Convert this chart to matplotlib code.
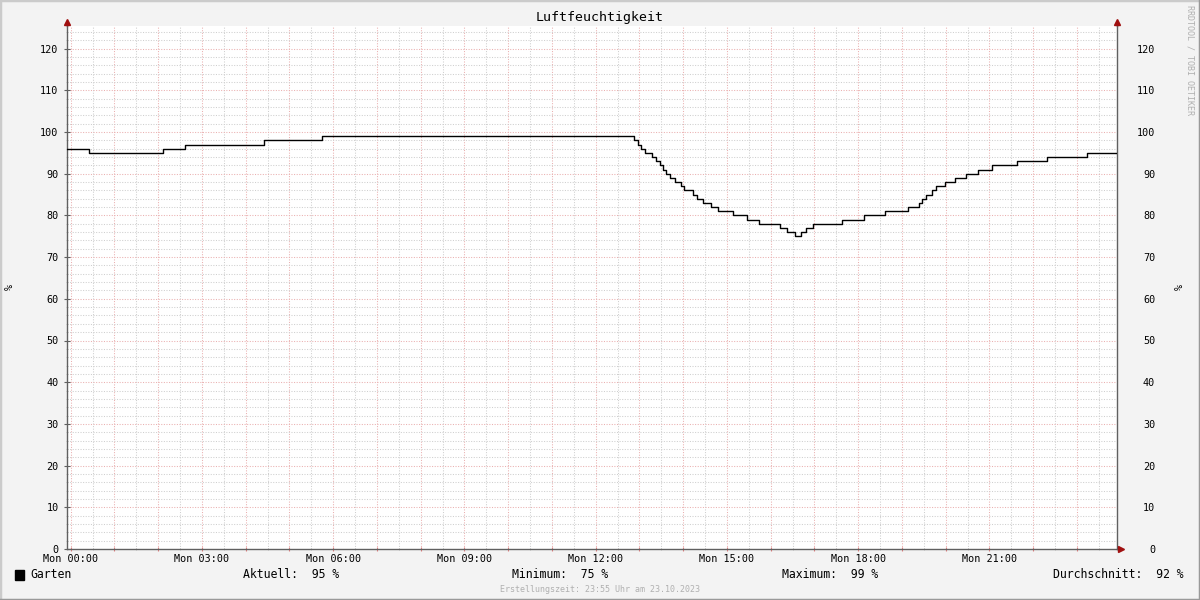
import matplotlib
matplotlib.use("Agg")
import matplotlib.pyplot as plt
from matplotlib.patches import Rectangle
from matplotlib.lines import Line2D
import numpy as np

# ---- data (hours since Mon 00:00, humidity %) ----
step_hours = [-0.083, 0.43, 2.10, 2.61, 4.43, 5.74,
              12.87, 12.96, 13.03, 13.12, 13.28, 13.37, 13.46, 13.53, 13.60,
              13.71, 13.81, 13.94, 14.03, 14.22, 14.31, 14.45, 14.63, 14.79,
              15.13, 15.45, 15.73, 16.21, 16.37, 16.55, 16.69, 16.80, 16.96,
              17.62, 18.13, 18.61, 19.13, 19.38, 19.47, 19.54, 19.68, 19.79,
              19.98, 20.21, 20.46, 20.73, 21.05, 21.62, 22.31, 23.22, 23.917]
humidity = [96, 95, 96, 97, 98, 99,
            98, 97, 96, 95, 94, 93, 92, 91, 90,
            89, 88, 87, 86, 85, 84, 83, 82, 81,
            80, 79, 78, 77, 76, 75, 76, 77, 78,
            79, 80, 81, 82, 83, 84, 85, 86, 87,
            88, 89, 90, 91, 92, 93, 94, 95, 95]
tick_hours = [0, 3, 6, 9, 12, 15, 18, 21]
y_ticks = [0, 10, 20, 30, 40, 50, 60, 70, 80, 90, 100, 110, 120]

legend_items = [("Aktuell:", "95 %"), ("Minimum:", "75 %"),
                ("Maximum:", "99 %"), ("Durchschnitt:", "92 %")]

mono = "DejaVu Sans Mono"
plt.rcParams['font.family'] = mono

fig = plt.figure(figsize=(12, 6), dpi=100)
fig.patch.set_facecolor("#f3f3f3")

W, H = 1200, 600
x0, x1, ybot, ytop = 67, 1117, 549, 26
ax = fig.add_axes([x0 / W, 1 - ybot / H, (x1 - x0) / W, (ybot - ytop) / H])
ax.set_facecolor("white")

ax.plot(step_hours, humidity, drawstyle="steps-post", color="black", lw=1.0, zorder=5)

ax.set_xlim(-5 / 60, 23 + 55 / 60)
ax.set_ylim(0, (ybot - ytop) / 4.17)

#-----grid-----
ax.set_xticks(np.arange(0, 24, 1))
ax.set_xticks(np.arange(0.5, 24, 1), minor=True)
ax.set_yticks(np.arange(0, 126, 10))
ax.set_yticks(np.arange(2, 126, 2), minor=True)
ax.grid(which="minor", color="#cfcfcf", linestyle=(0, (1, 1.5)), lw=0.75)
ax.grid(which="major", color="#eab0b0", linestyle=(0, (1, 1.5)), lw=0.75)
ax.set_axisbelow(True)

ax.set_xticklabels(["Mon %02d:00" % h if h in tick_hours else "" for h in range(24)],
                   fontsize=7.3)
ax.set_yticklabels([str(v) for v in y_ticks], fontsize=7.3)
ax.tick_params(axis="x", which="major", length=3, color="#e08080", pad=2, direction="inout")
ax.tick_params(axis="x", which="minor", length=2, color="#c0c0c0", direction="inout")
ax.tick_params(axis="y", which="major", length=4, color="#606060", pad=4, direction="inout")
ax.tick_params(axis="y", which="minor", length=2, color="#c0c0c0", direction="inout")

ax.spines["top"].set_visible(False)
for s in ["left", "bottom", "right"]:
    ax.spines[s].set_color("#606060")
    ax.spines[s].set_linewidth(1.0)

#-----right axis labels-----
ax2 = ax.twinx()
ax2.set_ylim(ax.get_ylim())
ax2.set_yticks(y_ticks)
ax2.set_yticklabels([str(v) for v in y_ticks], fontsize=7.3, ha="right")
ax2.tick_params(axis="y", length=0, pad=27.5)
for s in ax2.spines.values():
    s.set_visible(False)

#-----arrows-----
arrow_c = "#a01010"
for xa in (0, 1):
    ax.add_line(Line2D([xa, xa], [1, 1.01], transform=ax.transAxes, color="#606060",
                       lw=1.0, clip_on=False))
    ax.plot([xa], [1.0085], marker="^", ms=4.5, color=arrow_c, transform=ax.transAxes,
            clip_on=False, zorder=10)
ax.add_line(Line2D([1, 1.004], [0, 0], transform=ax.transAxes, color="#606060",
                   lw=1.0, clip_on=False))
ax.plot([1.004], [0], marker=">", ms=4.5, color=arrow_c, transform=ax.transAxes,
        clip_on=False, zorder=10)

#-----title / labels-----
fig.text(600 / W, 1 - 18 / H, "Luftfeuchtigkeit", ha="center", va="center",
         fontsize=9.5, color="black")
fig.text(10 / W, 1 - 287 / H, "%", rotation=90, ha="center", va="center", fontsize=7.3)
fig.text(1180 / W, 1 - 287 / H, "%", rotation=90, ha="center", va="center", fontsize=7.3)
fig.text(1190 / W, 1 - 5 / H, "RRDTOOL / TOBI OETIKER", rotation=270, ha="center",
         va="top", fontsize=6, color="#b0b0b0")

#-----legend line-----
ly = 1 - 575 / H
fig.add_artist(Rectangle((15 / W, 1 - 580 / H), 9 / W, 10 / H, color="black",
                         transform=fig.transFigure))
fig.text(30 / W, ly, "Garten", ha="left", va="center", fontsize=8.3)
fig.text(243 / W, ly, "%s  %s" % legend_items[0], ha="left", va="center", fontsize=8.3)
fig.text(512 / W, ly, "%s  %s" % legend_items[1], ha="left", va="center", fontsize=8.3)
fig.text(782 / W, ly, "%s  %s" % legend_items[2], ha="left", va="center", fontsize=8.3)
fig.text(1184 / W, ly, "%s  %s" % legend_items[3], ha="right", va="center", fontsize=8.3)
fig.text(600 / W, 1 - 589 / H, "Erstellungszeit: 23:55 Uhr am 23.10.2023", ha="center",
         va="center", fontsize=6, color="#b0b0b0")

#-----frame shading-----
fig.add_artist(Line2D([0, 0, 1], [0, 1, 1], transform=fig.transFigure, color="#cbcbcb", lw=2.5))
fig.add_artist(Line2D([0, 1, 1], [0, 0, 1], transform=fig.transFigure, color="#999999", lw=2.5))

fig.savefig("out.png", dpi=100, facecolor=fig.get_facecolor())
